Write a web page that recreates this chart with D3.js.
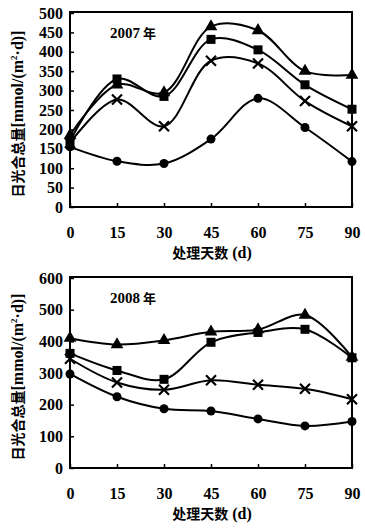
<!DOCTYPE html>
<html><head><meta charset="utf-8">
<script src="https://cdn.jsdelivr.net/npm/d3@7"></script>
<style>body{margin:0;background:#fff}svg{display:block}</style>
</head><body>
<script>
const days = [0, 15, 30, 45, 60, 75, 90];
const xTicks = [0, 15, 30, 45, 60, 75, 90];
// 2007
const tri2007 = [185, 315, 295, 465, 455, 350, 340];
const sq2007  = [170, 330, 285, 432, 405, 315, 252];
const x2007   = [165, 277, 208, 377, 370, 273, 208];
const ci2007  = [155, 118, 112, 175, 280, 205, 117];
const yTicks2007 = [0, 50, 100, 150, 200, 250, 300, 350, 400, 450, 500];
// 2008
const tri2008 = [410, 390, 403, 430, 437, 483, 350];
const sq2008  = [362, 308, 280, 397, 428, 438, 348];
const x2008   = [345, 270, 247, 277, 263, 250, 217];
const ci2008  = [297, 225, 187, 180, 155, 133, 147];
const yTicks2008 = [0, 100, 200, 300, 400, 500, 600];

const W = 365, H = 532;
const svg = d3.select("body").append("svg").attr("width", W).attr("height", H);
const numFont = "'Liberation Serif', 'DejaVu Serif', serif";
const cjkFont = "'Noto Sans CJK SC', sans-serif";

function panel(cfg) {
  const g = svg.append("g");
  const x = d3.scaleLinear().domain([0, 90]).range([70, 352]);
  const y = d3.scaleLinear().domain([0, cfg.ymax]).range([cfg.y0, cfg.y1]);
  g.append("rect").attr("x", 70).attr("y", cfg.y1 - 1).attr("width", 282).attr("height", cfg.y0 - cfg.y1 + 1)
    .attr("fill", "none").attr("stroke", "#000").attr("stroke-width", 2);
  const ya = g.append("g").attr("transform", "translate(70,0)")
    .call(d3.axisRight(y).tickValues(cfg.yTicks).tickSize(4).tickFormat(d3.format("d")));
  ya.select(".domain").remove();
  ya.selectAll("line").attr("stroke-width", 1.5);
  ya.selectAll("text").attr("x", -7).attr("text-anchor", "end")
    .attr("font-family", numFont).attr("font-weight", "bold").attr("font-size", 16).attr("fill", "#000");
  const xa = g.append("g").attr("transform", `translate(0,${cfg.y0})`)
    .call(d3.axisTop(x).tickValues(xTicks).tickSize(4).tickFormat(d3.format("d")));
  xa.select(".domain").remove();
  xa.selectAll("line").attr("stroke-width", 1.5);
  xa.selectAll("text").attr("y", 31).attr("dy", 0)
    .attr("font-family", numFont).attr("font-weight", "bold").attr("font-size", 16).attr("fill", "#000");
  const xt = g.append("text").attr("x", 212).attr("y", cfg.y0 + 51).attr("text-anchor", "middle")
    .attr("font-weight", "bold").attr("font-size", 14);
  xt.append("tspan").attr("font-family", cjkFont).text("处理天数");
  xt.append("tspan").attr("font-family", numFont).attr("font-size", 16).text(" (d)");
  const yt = g.append("text").attr("transform", `translate(23,${(cfg.y0 + cfg.y1) / 2 + 4}) rotate(-90)`)
    .attr("text-anchor", "middle").attr("font-weight", "bold").attr("font-size", 14);
  yt.append("tspan").attr("font-family", cjkFont).text("日光合总量");
  yt.append("tspan").attr("font-family", numFont).attr("font-size", 16).text("[mmol/(m");
  yt.append("tspan").attr("font-family", numFont).attr("font-size", 9).attr("dy", -6).text("2");
  yt.append("tspan").attr("font-family", numFont).attr("font-size", 16).attr("dy", 6).text("·d)]");
  const yl = g.append("text").attr("x", 110).attr("y", cfg.y1 + 25)
    .attr("font-weight", "bold").attr("font-size", 15);
  yl.append("tspan").attr("font-family", numFont).text(cfg.year);
  yl.append("tspan").attr("font-family", cjkFont).attr("font-size", 13).text(" 年");

  const line = d3.line().x((d, i) => x(days[i])).y(d => y(d)).curve(d3.curveCatmullRom.alpha(0.5));
  const series = [
    {v: cfg.tri, m: "tri"}, {v: cfg.sq, m: "sq"}, {v: cfg.xs, m: "x"}, {v: cfg.ci, m: "ci"}
  ];
  series.forEach(s => {
    g.append("path").datum(s.v).attr("d", line).attr("fill", "none").attr("stroke", "#000").attr("stroke-width", 2);
  });
  series.forEach(s => {
    const pts = g.append("g").selectAll("g").data(s.v).join("g")
      .attr("transform", (d, i) => `translate(${x(days[i])},${y(d)})`);
    if (s.m === "tri") pts.append("path").attr("d", d3.symbol(d3.symbolTriangle, 70)()).attr("fill", "#000");
    if (s.m === "sq") pts.append("rect").attr("x", -4.5).attr("y", -4.5).attr("width", 9).attr("height", 9).attr("fill", "#000");
    if (s.m === "ci") pts.append("circle").attr("r", 4.5).attr("fill", "#000");
    if (s.m === "x") pts.append("path").attr("d", "M-5,-5L5,5M-5,5L5,-5").attr("stroke", "#000").attr("stroke-width", 2.2);
  });
}

panel({y0: 207, y1: 13, ymax: 500, yTicks: yTicks2007, year: "2007",
  tri: tri2007, sq: sq2007, xs: x2007, ci: ci2007});
panel({y0: 468, y1: 278, ymax: 600, yTicks: yTicks2008, year: "2008",
  tri: tri2008, sq: sq2008, xs: x2008, ci: ci2008});
</script>
</body></html>
